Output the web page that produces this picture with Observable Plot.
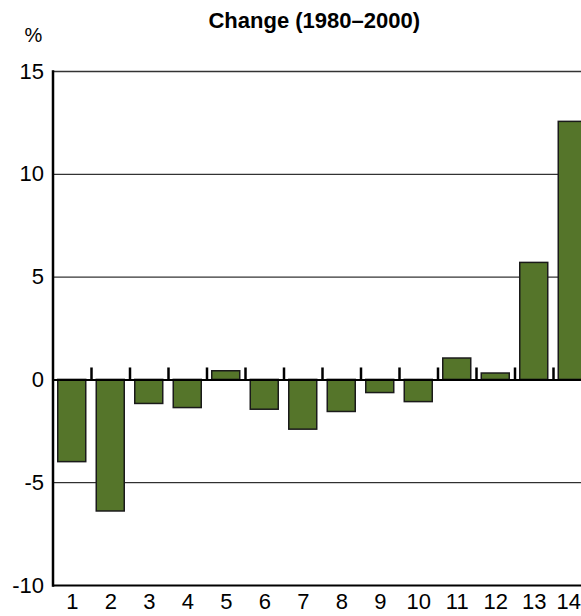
<!DOCTYPE html>
<html>
<head>
<meta charset="utf-8">
<script src="https://cdn.jsdelivr.net/npm/d3@7"></script>
<script src="https://cdn.jsdelivr.net/npm/@observablehq/plot@0.6"></script>
<style>
  html, body { margin: 0; padding: 0; background: #fff; overflow: hidden; }
  svg { overflow: hidden !important; display: block; }
</style>
</head>
<body>
<div id="chart"></div>
<script>
const categories = ["1","2","3","4","5","6","7","8","9","10","11","12","13","14"];
const values = [-4.0, -6.4, -1.17, -1.37, 0.42, -1.45, -2.42, -1.56, -0.64, -1.08, 1.04, 0.31, 5.69, 12.55];
const yTicks = [-10, -5, 0, 5, 10, 15];
const gridValues = [-5, 5, 10];
const titleText = "Change (1980–2000)";
const unitText = "%";

const data = categories.map((c, i) => ({category: c, value: values[i]}));

const W = 581, H = 616;
const mLeft = 52.5, mTop = 71, mBottom = 31;
const step = 38.5;
const xRight = mLeft + step * categories.length;
const font = "'Liberation Sans Narrow', 'Liberation Sans', Arial, sans-serif";

const chart = Plot.plot({
  width: W,
  height: H,
  marginLeft: mLeft,
  marginRight: 0,
  marginTop: mTop,
  marginBottom: mBottom,
  style: {fontFamily: font, fontSize: "22px", color: "#000", background: "#fff", overflow: "hidden"},
  x: {type: "band", domain: categories, range: [mLeft, xRight], paddingInner: 0.273, paddingOuter: 0.1365, align: 0.5, round: false},
  y: {domain: [-10, 15]},
  marks: [
    Plot.ruleY(gridValues, {stroke: "#000", strokeWidth: 1}),
    Plot.ruleY([15], {stroke: "#333", strokeWidth: 1.5}),
    Plot.barY(data, {x: "category", y: "value", fill: "#55752a", stroke: "#1a1a1a", strokeWidth: 1.5}),
    Plot.ruleY([0], {stroke: "#000", strokeWidth: 2}),
    Plot.ruleX(categories.slice(1), {x: d => d, y1: () => 0, y2: () => 0.58, dx: -step / 2, stroke: "#000", strokeWidth: 2.5}),
    Plot.ruleY([-10], {stroke: "#000", strokeWidth: 2}),
    Plot.frame({anchor: "left", stroke: "#000", strokeWidth: 2.5}),
    Plot.axisY(yTicks, {tickSize: 0, tickPadding: 9, fontSize: 22, label: null, tickFormat: d => String(d)}),
    Plot.axisX(categories.slice(0, 13), {tickSize: 0, tickPadding: 8, fontSize: 22, label: null}),
    Plot.axisX(categories.slice(13), {tickSize: 0, tickPadding: 8, fontSize: 22, dx: -4, label: null}),
    Plot.text([titleText], {frameAnchor: "top", text: d => d, dx: -3, dy: -44, lineAnchor: "bottom", fontSize: 22, fontWeight: "bold", fontFamily: "'Liberation Sans', Arial, sans-serif"}),
    Plot.text([unitText], {frameAnchor: "top-left", text: d => d, dx: -19.5, dy: -30, lineAnchor: "bottom", textAnchor: "middle", fontSize: 20})
  ]
});
document.getElementById("chart").appendChild(chart);
</script>
</body>
</html>
